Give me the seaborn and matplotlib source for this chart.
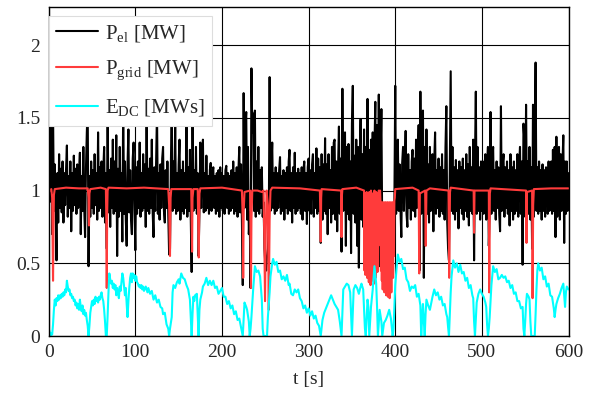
import numpy as np
import pandas as pd
import matplotlib
matplotlib.use("Agg")
import matplotlib.pyplot as plt
import seaborn as sns

# ---------------- data ----------------
# P_el sampled every 1 s, t = 0 ... 600
p_el = [
    1.10, 0.92, 1.14, 1.60, 0.70, 1.55, 0.86, 1.18, 0.90, 0.52,
    1.12, 0.78, 1.25, 0.88, 1.15, 0.85, 1.20, 0.78, 1.12, 0.90,
    1.14, 1.31, 0.82, 1.10, 0.88, 1.20, 0.72, 1.12, 0.86, 1.24,
    0.90, 1.15, 0.84, 1.18, 0.88, 1.12, 1.26, 0.70, 1.10, 0.86,
    1.30, 0.88, 0.68, 1.15, 1.40, 1.58, 0.48, 1.10, 0.82, 1.20,
    0.88, 1.14, 0.84, 1.25, 0.90, 1.12, 0.80, 1.40, 0.86, 1.16,
    0.88, 1.20, 0.82, 1.14, 1.30, 0.78, 1.12, 0.60, 1.58, 0.85,
    1.14, 0.75, 1.22, 0.88, 1.35, 0.84, 1.20, 0.86, 1.38, 0.55,
    1.15, 0.82, 1.30, 0.86, 1.12, 0.65, 1.60, 0.84, 1.20, 0.80,
    0.62, 1.18, 1.42, 0.85, 1.14, 0.80, 0.70, 1.22, 1.33, 0.88,
    0.59, 1.16, 0.84, 1.20, 0.88, 1.33, 0.82, 1.12, 0.86, 1.25,
    0.88, 1.18, 0.75, 1.60, 0.86, 1.15, 0.84, 1.22, 0.88, 1.35,
    0.85, 0.68, 1.16, 0.86, 1.20, 1.55, 0.84, 1.12, 0.80, 1.18,
    0.88, 1.22, 1.30, 0.86, 0.78, 1.14, 0.88, 1.20, 0.84, 0.56,
    0.60, 1.16, 1.60, 0.86, 1.20, 0.88, 1.45, 0.84, 1.12, 0.86,
    1.18, 1.35, 0.80, 1.14, 0.86, 1.20, 0.84, 1.12, 0.88, 1.44,
    0.82, 1.16, 0.86, 1.28, 0.80, 0.44, 1.60, 0.86, 1.14, 0.88,
    1.30, 0.84, 1.12, 0.55, 0.86, 1.33, 0.88, 1.15, 1.35, 0.85,
    1.12, 0.86, 1.24, 0.88, 1.10, 0.84, 1.14, 1.19, 0.86, 1.12,
    1.16, 0.88, 1.10, 0.84, 1.12, 0.86, 1.14, 0.82, 1.16, 0.88,
    1.12, 0.86, 1.10, 0.84, 1.14, 1.17, 0.88, 1.12, 0.84, 1.10,
    0.86, 1.14, 0.88, 1.20, 0.84, 1.12, 0.86, 1.16, 0.82, 1.14,
    1.30, 0.85, 1.18, 0.80, 0.35, 1.67, 0.88, 1.45, 1.54, 0.80,
    1.30, 0.70, 0.85, 0.33, 1.84, 1.40, 1.53, 0.86, 1.55, 0.82,
    1.20, 0.86, 1.30, 0.84, 1.14, 0.88, 1.16, 0.82, 0.92, 0.60,
    0.50, 0.45, 0.55, 0.60, 0.75, 1.78, 0.86, 1.15, 1.33, 0.88,
    1.12, 0.84, 1.16, 0.86, 1.12, 0.88, 1.14, 1.23, 0.84, 1.10,
    0.86, 1.14, 0.80, 1.12, 0.88, 1.16, 0.84, 1.20, 1.28, 0.86,
    1.12, 0.78, 1.16, 0.88, 1.26, 0.84, 1.12, 0.86, 1.15, 0.88,
    1.12, 0.84, 1.16, 0.80, 1.14, 1.20, 0.86, 1.12, 0.77, 1.16,
    1.22, 0.86, 1.14, 0.84, 1.18, 1.25, 0.82, 1.12, 0.88, 1.29,
    0.84, 1.22, 0.86, 1.16, 0.64, 1.25, 0.80, 1.18, 0.86, 1.36,
    0.84, 1.18, 0.70, 1.25, 0.88, 1.14, 0.78, 1.30, 0.84, 1.33,
    1.35, 0.80, 1.20, 0.72, 1.16, 1.44, 0.84, 1.22, 0.58, 1.70,
    0.86, 1.25, 1.40, 0.62, 1.30, 0.84, 1.32, 0.80, 1.20, 0.57,
    1.46, 1.72, 0.84, 1.24, 0.78, 1.35, 0.62, 1.30, 0.47, 1.20,
    1.49, 0.80, 1.25, 0.75, 1.42, 0.70, 1.30, 0.66, 1.63, 0.60,
    1.28, 0.50, 1.35, 0.62, 1.40, 0.45, 1.30, 1.61, 0.55, 1.45,
    0.60, 1.66, 0.48, 1.20, 1.56, 0.70, 0.80, 0.65, 0.75, 0.60,
    0.70, 0.55, 0.75, 0.65, 0.80, 0.60, 0.85, 0.70, 0.88, 0.92,
    1.72, 0.84, 1.20, 1.35, 0.86, 1.18, 0.88, 0.68, 1.19, 1.30,
    0.86, 1.16, 1.41, 0.84, 0.75, 1.25, 0.88, 1.14, 0.80, 1.20,
    1.28, 0.86, 1.22, 0.82, 1.35, 0.88, 1.20, 1.45, 0.45, 1.68,
    0.84, 1.25, 1.55, 0.40, 1.30, 0.70, 1.42, 0.84, 1.18, 0.78,
    1.30, 0.86, 1.16, 1.25, 0.72, 1.20, 1.40, 0.84, 1.14, 0.88,
    1.22, 0.82, 1.16, 0.86, 1.25, 0.84, 1.14, 0.80, 1.30, 1.58,
    0.78, 0.60, 0.52, 1.20, 1.82, 0.86, 1.30, 0.84, 1.16, 0.80,
    1.21, 0.86, 1.14, 0.74, 1.20, 0.88, 1.16, 0.84, 1.22, 0.80,
    1.14, 0.86, 1.25, 0.82, 1.18, 0.76, 1.30, 0.86, 1.16, 0.84,
    1.35, 0.52, 1.20, 1.68, 0.84, 1.30, 0.86, 1.16, 0.80, 1.20,
    0.86, 1.20, 0.84, 1.16, 1.25, 0.80, 1.18, 1.30, 0.62, 0.86,
    1.54, 0.84, 1.20, 1.30, 0.86, 1.14, 0.80, 1.20, 0.88, 1.16,
    0.84, 0.72, 1.58, 0.86, 1.18, 1.25, 0.82, 1.16, 0.88, 1.20,
    0.84, 1.14, 0.76, 1.25, 0.86, 1.16, 0.80, 1.20, 0.84, 1.14,
    0.86, 1.25, 0.82, 1.18, 1.30, 0.84, 1.20, 0.49, 1.46, 1.35,
    0.82, 1.59, 0.86, 1.20, 0.84, 1.30, 0.80, 1.16, 0.60, 1.59,
    0.82, 1.30, 1.88, 0.86, 1.16, 0.84, 1.20, 0.86, 1.14, 0.80,
    1.18, 0.86, 1.14, 0.82, 1.16, 1.15, 0.84, 1.20, 0.86, 1.12,
    1.20, 0.84, 1.28, 0.86, 1.30, 0.68, 1.37, 0.82, 1.20, 1.30,
    0.80, 1.25, 0.86, 1.18, 1.38, 0.64, 1.20, 0.84, 1.20, 0.86,
    1.12,
]
t_el = list(range(len(p_el)))

# P_grid breakpoints (t [s], value [MW])
t_grid = [
    0, 1, 3, 4, 5, 6, 7, 20, 35, 45, 46, 46.5, 47, 48, 60, 66, 66.5, 67, 67.5, 68, 69,
    90, 110, 138, 139, 140, 140.7, 141.5, 164.5, 165, 165.5, 166, 167, 172, 172.5, 173.2,
    174, 175, 200, 223, 224, 224.5, 225, 226, 232.5, 233, 233.5, 234, 235, 241, 246, 248,
    249, 249.7, 250.5, 251.5, 253, 254, 255, 256, 258, 290, 313, 313.5, 314, 314.5, 315,
    337.5, 338, 338.5, 339, 355,
    364.0, 364.5, 365.0, 365.5, 366.0, 366.5, 367.0, 367.5, 368.0, 368.5, 369.0, 369.5,
    370.0, 370.5, 371.0, 371.5, 372.0, 372.5, 373.0, 373.5, 374.0, 374.5, 375.0, 375.5,
    376.0, 376.5, 377.0, 377.5, 378.0, 378.5, 379.0, 379.5, 380.0, 380.5, 381.0, 381.5,
    382.5,
    383.0, 383.5, 384.0, 384.5, 385.0, 385.5, 386.0, 386.5, 387.0, 387.5, 388.0, 388.5,
    389.0, 389.5, 390.0, 390.5, 391.0, 391.5, 392.0, 392.5, 393.0, 393.5, 394.0, 394.5,
    395.0, 395.5, 396.0, 396.5, 397.0, 397.5, 398.0, 398.5, 399.0, 399.5,
    400, 420, 427, 427.7, 428.4, 434.5, 435.2, 436, 440, 461.5, 462.3, 463.2, 464,
    490.5, 491, 491.5, 508, 508.5, 509.2, 510, 551, 551.5, 552, 558, 558.5, 559.2, 560,
    580, 600,
]
p_grid = [
    0.98, 1.00, 1.01, 0.95, 0.38, 0.97, 1.01, 1.02, 1.015, 1.015, 0.95, 0.76, 0.98, 1.01,
    1.02, 1.01, 0.80, 0.33, 0.85, 1.00, 1.02,
    1.015, 1.02, 1.01, 0.90, 0.55, 0.95, 1.01, 1.01, 0.80, 0.58, 0.95, 1.01, 1.01, 0.80,
    0.54, 0.98, 1.015, 1.02, 1.00, 0.80, 0.40, 0.85, 0.99, 1.00, 0.70, 0.33, 0.80, 1.00,
    1.00, 0.99, 1.00, 0.60, 0.24, 0.70, 1.00, 0.90, 0.18, 0.80, 1.00, 1.02, 1.015, 1.00,
    0.85, 0.65, 0.95, 1.01, 1.00, 0.68, 0.97, 1.01, 1.02,
    1.00, 0.45, 0.98, 0.42, 0.95, 0.60, 0.99, 0.40, 0.93, 0.48, 0.97, 0.37,
    0.99, 0.55, 0.96, 0.35, 1.00, 0.50, 0.94, 0.38, 0.98, 0.45, 0.96, 0.36,
    1.00, 0.52, 0.97, 0.40, 0.99, 0.48, 0.95, 0.44, 0.98, 0.62, 1.00, 0.98,
    1.00,
    0.92, 0.45, 0.90, 0.38, 0.92, 0.32, 0.91, 0.42, 0.92, 0.30, 0.90, 0.36,
    0.92, 0.28, 0.91, 0.40, 0.92, 0.27, 0.90, 0.33, 0.92, 0.26, 0.91, 0.38,
    0.92, 0.30, 0.90, 0.45, 0.92, 0.40, 0.91, 0.55, 0.93, 0.95,
    1.01, 1.02, 1.00, 0.43, 0.98, 1.00, 0.62, 1.00, 1.015, 1.00, 0.40, 0.99, 1.02,
    1.00, 0.71, 1.00, 1.00, 0.30, 0.98, 1.015, 1.00, 0.64, 0.99, 1.00, 0.26, 0.90, 1.01,
    1.015, 1.015,
]

# E_DC breakpoints (t [s], value [MWs]) -- rows of t_dc and e_dc match
t_dc = [
    0, 1, 2, 3, 4, 5, 6, 7, 8, 9, 10, 11, 12, 13, 14, 15, 16, 17, 18, 19, 20, 21, 22, 23,
    24, 25, 26, 27, 28, 29, 30, 31, 32, 33, 34, 35, 36, 37, 38, 39, 40, 41, 42, 43, 44,
    45, 46, 47, 48, 49, 50, 51, 52, 53, 54, 55, 56, 57, 58, 59, 60, 61, 62, 63, 64, 65,
    66, 67, 68, 69, 70, 71, 72, 73, 74, 75, 76, 77, 78, 79, 80, 81, 82, 83, 84, 85, 86,
    87, 88, 89, 90, 91, 92, 93, 94, 95, 96, 97, 98, 99, 100, 101, 102, 103, 104, 105,
    106, 107, 108, 109, 110, 112, 114, 115, 117, 119, 121, 123, 125, 127, 129, 131, 132,
    134, 136, 138, 139, 140, 142, 143, 144, 146, 148, 150, 151, 153, 155, 157, 159, 161,
    163, 165, 166, 167, 168, 169, 171, 172, 173, 174, 175, 177, 178, 180, 182, 184, 186,
    188, 190, 192, 194, 196, 198, 200, 202, 204, 206, 208, 210, 212, 214, 216, 218, 220,
    222, 224, 225, 226, 228, 229, 231, 232, 233, 234, 236, 238, 240, 242, 244, 246, 247,
    248, 252, 253, 255, 256, 258, 259, 261, 263, 265, 267, 269, 271, 273, 275, 277, 278,
    280, 282, 284, 286, 288, 290, 292, 294, 296, 298, 300, 302, 304, 306, 308, 310, 312,
    314, 316, 318, 320, 322, 324, 326, 328, 330, 332, 334, 336, 338, 340, 342, 344, 346,
    348, 350, 352, 354, 356, 358, 360, 361, 363, 365, 366, 368, 369, 370, 372, 374, 376,
    378, 379, 380, 382, 384, 385, 387, 389, 391, 393, 395, 397, 398, 400, 402, 403, 405,
    407, 409, 411, 413, 415, 417, 419, 421, 423, 425, 427, 429, 430, 431, 432, 433, 434,
    435, 436, 438, 440, 442, 443, 445, 447, 449, 451, 453, 455, 457, 459, 460, 461, 462,
    463, 464, 465, 467, 469, 471, 473, 475, 477, 479, 481, 483, 485, 487, 489, 490, 491,
    492, 493, 494, 496, 498, 500, 502, 504, 505, 506, 507, 508, 509, 511, 513, 515, 517,
    519, 521, 523, 525, 527, 529, 531, 533, 535, 537, 539, 541, 543, 545, 547, 548, 549,
    550, 551, 552, 554, 555, 556, 557, 561, 562, 563, 564, 565, 567, 569, 571, 573, 575,
    577, 579, 581, 583, 584, 585, 586, 588, 590, 592, 594, 595, 596, 597, 598, 600,
]
e_dc = [
    0.05, 0.03, 0.00, 0.02, 0.01, 0.08, 0.18, 0.25, 0.21, 0.26, 0.24, 0.28, 0.25, 0.28, 0.26, 0.29, 0.27, 0.30, 0.28, 0.32, 0.30, 0.38, 0.34, 0.31,
    0.32, 0.28, 0.29, 0.26, 0.27, 0.24, 0.25, 0.21, 0.23, 0.19, 0.22, 0.18, 0.25, 0.20, 0.17, 0.21, 0.15, 0.18, 0.14, 0.16, 0.11,
    0.07, 0.00, 0.07, 0.16, 0.20, 0.24, 0.21, 0.25, 0.22, 0.27, 0.24, 0.26, 0.23, 0.27, 0.25, 0.28, 0.30, 0.26, 0.24, 0.18, 0.10,
    0.00, 0.00, 0.14, 0.30, 0.43, 0.39, 0.36, 0.38, 0.33, 0.36, 0.32, 0.35, 0.28, 0.33, 0.30, 0.26, 0.34, 0.31, 0.37, 0.43, 0.40,
    0.34, 0.28, 0.33, 0.22, 0.13, 0.24, 0.33, 0.40, 0.43, 0.37, 0.43, 0.40, 0.42, 0.38, 0.41, 0.37, 0.36, 0.34, 0.35,
    0.33, 0.35, 0.32, 0.34, 0.31, 0.34, 0.30, 0.33, 0.29, 0.31, 0.25, 0.28, 0.23, 0.25, 0.20, 0.19, 0.15,
    0.16, 0.08, 0.05, 0.00, 0.05, 0.13, 0.30, 0.35, 0.33, 0.37, 0.39, 0.36, 0.43, 0.40, 0.39, 0.35, 0.32,
    0.25, 0.00, 0.15, 0.27, 0.24, 0.28, 0.29, 0.15, 0.00, 0.18, 0.25, 0.30, 0.34, 0.36, 0.40, 0.35, 0.38,
    0.35, 0.38, 0.33, 0.34, 0.29, 0.31, 0.33, 0.27, 0.27, 0.22, 0.24, 0.19, 0.21, 0.15, 0.17, 0.11, 0.12,
    0.06, 0.00, 0.12, 0.23, 0.20, 0.18, 0.10, 0.00, 0.05, 0.13, 0.32, 0.48, 0.44, 0.45, 0.41, 0.25, 0.05,
    0.00, 0.00, 0.13, 0.30, 0.41, 0.50, 0.53, 0.49, 0.51, 0.44, 0.45, 0.39, 0.41, 0.38, 0.42, 0.35, 0.36,
    0.29, 0.28, 0.32, 0.30, 0.32, 0.26, 0.24, 0.19, 0.21, 0.16, 0.19, 0.14, 0.17, 0.12, 0.14, 0.09, 0.07,
    0.00, 0.11, 0.16, 0.19, 0.22, 0.25, 0.28, 0.25, 0.22, 0.20, 0.18, 0.10, 0.00, 0.32, 0.34, 0.36, 0.35,
    0.30, 0.00, 0.32, 0.35, 0.33, 0.29, 0.34, 0.36, 0.32, 0.05, 0.00, 0.25, 0.20, 0.00, 0.20, 0.32, 0.48,
    0.36, 0.20, 0.00, 0.18, 0.10, 0.00, 0.09, 0.11, 0.14, 0.18, 0.12, 0.00, 0.05, 0.35, 0.50, 0.56, 0.51,
    0.53, 0.46, 0.47, 0.39, 0.37, 0.31, 0.34, 0.33, 0.35, 0.27, 0.29, 0.21, 0.00, 0.12, 0.22, 0.10, 0.00,
    0.15, 0.25, 0.21, 0.18, 0.24, 0.27, 0.32, 0.28, 0.30, 0.25, 0.27, 0.21, 0.22, 0.15, 0.13, 0.06, 0.00,
    0.15, 0.30, 0.41, 0.52, 0.47, 0.50, 0.44, 0.49, 0.43, 0.44, 0.38, 0.40, 0.33, 0.35, 0.28, 0.26, 0.10,
    0.00, 0.12, 0.23, 0.29, 0.32, 0.29, 0.27, 0.23, 0.20, 0.08, 0.00, 0.05, 0.13, 0.35, 0.48, 0.44, 0.46,
    0.39, 0.40, 0.42, 0.40, 0.41, 0.37, 0.38, 0.33, 0.35, 0.29, 0.30, 0.24, 0.24, 0.19, 0.20, 0.05, 0.00,
    0.10, 0.22, 0.29, 0.27, 0.25, 0.10, 0.00, 0.00, 0.15, 0.32, 0.45, 0.50, 0.45, 0.47, 0.39, 0.41, 0.34,
    0.36, 0.28, 0.27, 0.19, 0.13, 0.18, 0.22, 0.26, 0.29, 0.33, 0.36, 0.28, 0.20, 0.30, 0.34, 0.32,
]

legend_labels = [r"$\mathrm{P_{el}}$ [MW]", r"$\mathrm{P_{grid}}$ [MW]",
                 r"$\mathrm{E_{DC}}$ [MWs]"]
x_ticks = [0, 100, 200, 300, 400, 500, 600]
y_ticks = [0, 0.5, 1, 1.5, 2]
y_tick_labels = ["0", "0.5", "1", "1.5", "2"]

# ---------------- plotting ----------------
sns.set_style("white")
plt.rcParams["font.family"] = ["Liberation Serif", "DejaVu Serif"]
plt.rcParams["mathtext.fontset"] = "custom"
plt.rcParams["mathtext.rm"] = "Liberation Serif"
plt.rcParams["mathtext.it"] = "Liberation Serif:italic"

df_el = pd.DataFrame({"t": t_el, "v": p_el})
df_grid = pd.DataFrame({"t": t_grid, "v": p_grid})
df_dc = pd.DataFrame({"t": t_dc, "v": e_dc})

fig = plt.figure(figsize=(6.05, 3.94), dpi=100)
ax = fig.add_axes([0.0805, 0.1472, 0.8592, 0.8343])

sns.lineplot(data=df_el, x="t", y="v", ax=ax, color="black", lw=1.5,
             estimator=None, sort=False, label=legend_labels[0])
sns.lineplot(data=df_grid, x="t", y="v", ax=ax, color="#ff3b3b", lw=1.5,
             estimator=None, sort=False, label=legend_labels[1])
sns.lineplot(data=df_dc, x="t", y="v", ax=ax, color="#00ffff", lw=1.5,
             estimator=None, sort=False, label=legend_labels[2])

ax.set_xlim(0, 600)
ax.set_ylim(0, 2.26)
ax.set_xticks(x_ticks)
ax.set_xticklabels([str(v) for v in x_ticks])
ax.set_yticks(y_ticks)
ax.set_yticklabels(y_tick_labels)
ax.tick_params(labelsize=14, length=0, pad=6)
ax.grid(True, color="black", lw=0.8)
ax.set_axisbelow(True)
for s in ax.spines.values():
    s.set_color("black")
    s.set_linewidth(1.0)
ax.set_xlabel("t [s]", fontsize=14, labelpad=7)
ax.set_ylabel("")

leg = ax.legend(loc="upper left", bbox_to_anchor=(0.0, 0.975), borderaxespad=0,
                fontsize=15, frameon=True, fancybox=False, framealpha=1,
                edgecolor="#dddddd", handlelength=2.0, handletextpad=0.35,
                labelspacing=0.72, borderpad=0.35)
leg.get_frame().set_linewidth(0.8)
for line in leg.get_lines():
    line.set_linewidth(1.5)

fig.savefig("out.png", dpi=100)
